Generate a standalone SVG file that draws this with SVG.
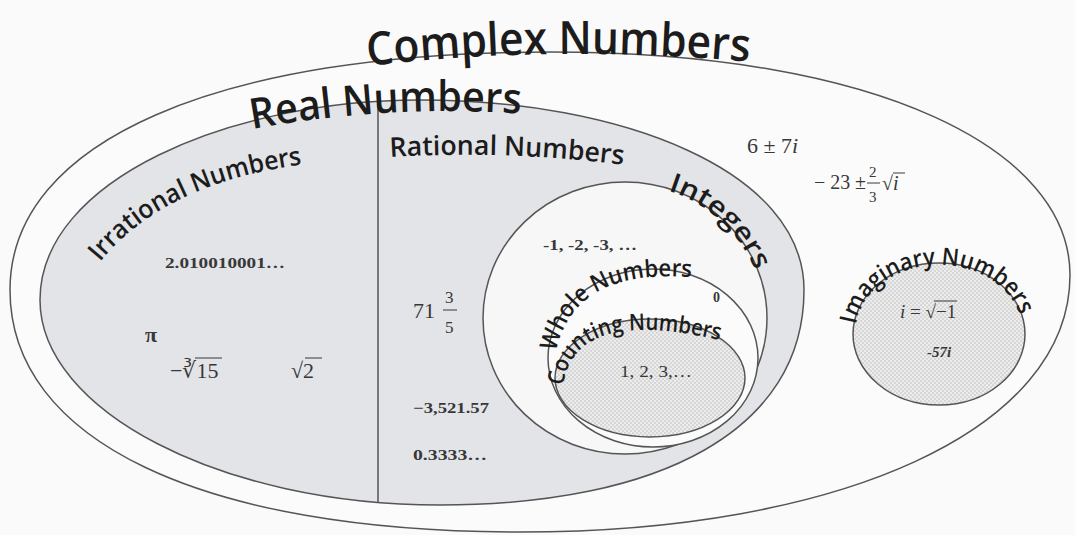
<svg xmlns="http://www.w3.org/2000/svg" width="1075" height="535" viewBox="0 0 1075 535">
<style>
.shape{stroke:#555;stroke-width:1.5}
.line{fill:none;stroke:#555;stroke-width:1.5}
.hand{font-family:"Comic Sans MS","Open Sans","DejaVu Sans",sans-serif;font-weight:600;fill:#1c1c1c}
.m{font-family:"Liberation Serif","Times New Roman",serif;fill:#383838}
.b{font-weight:bold}
.it{font-style:italic}
.rule{stroke:#383838;stroke-width:1}
</style>
<defs>
<pattern id="dots" width="4" height="4" patternUnits="userSpaceOnUse"><rect width="4" height="4" fill="#ececec"/><circle cx="1" cy="1" r="0.7" fill="#b3b3b3"/><circle cx="3" cy="3" r="0.7" fill="#b3b3b3"/></pattern>
<path id="pTitle" d="M 368,66 Q 558,44 752,62"/>
<path id="pReal" d="M 252,129 Q 390,104 526,114"/>
<path id="pIrr" d="M 100,262 Q 165,182 306,164"/>
<path id="pRat" d="M 390,157 Q 505,150 626,165"/>
<path id="pInt" d="M 668,190.6 A 139 134 0 0 1 755.6,272.2"/>
<path id="pWhole" d="M 556,352 Q 575,262 708,279"/>
<path id="pCount" d="M 563,386 Q 575,300 742,346"/>
<path id="pImag" d="M 855.8,324.4 A 84 69 0 0 1 1022.2,324.4"/>
</defs>
<rect width="1075" height="535" fill="#fafafa"/>

<g id="complex">
<path class="shape" style="fill:#fbfbfb" d="M 10,290 C 10,140 220,52 550,52 C 880,52 1070,150 1070,275 C 1070,430 840,532 520,532 C 200,532 10,440 10,290 Z"/>
<text class="hand" font-size="46"><textPath href="#pTitle" textLength="382" lengthAdjust="spacingAndGlyphs">Complex Numbers</textPath></text>
<text class="m" x="747" y="153" font-size="22">6 ± 7<tspan class="it">i</tspan></text>
<text class="m" x="814" y="189" font-size="20" textLength="52" lengthAdjust="spacingAndGlyphs">− 23 ±</text>
<text class="m" x="869" y="177" font-size="15">2</text>
<line class="rule" x1="867" y1="183" x2="880" y2="183"/>
<text class="m" x="869" y="202" font-size="15">3</text>
<text class="m" x="882" y="190" font-size="20">√<tspan class="it">i</tspan></text>
<line class="rule" x1="893" y1="173" x2="905" y2="173"/>
</g>

<g id="real">
<path class="shape" style="fill:#e3e4e8" d="M 40,300 C 40,180 230,100 420,100 C 620,100 804,170 804,290 C 804,430 660,505 440,505 C 220,505 40,410 40,300 Z"/>
<line class="line" x1="378" y1="101" x2="378" y2="503"/>
<text class="hand" font-size="42"><textPath href="#pReal" textLength="270" lengthAdjust="spacingAndGlyphs">Real Numbers</textPath></text>
</g>

<g id="irrational">
<text class="hand" font-size="26"><textPath href="#pIrr" textLength="230" lengthAdjust="spacingAndGlyphs">Irrational Numbers</textPath></text>
<text class="m b" x="165" y="268" font-size="15" textLength="120" lengthAdjust="spacingAndGlyphs">2.010010001…</text>
<text class="m b" x="145" y="342" font-size="22">π</text>
<text class="m" x="170" y="378" font-size="22">−∛15</text>
<line class="rule" x1="195" y1="358" x2="222" y2="358"/>
<text class="m" x="291" y="378" font-size="22">√2</text>
<line class="rule" x1="305" y1="358" x2="322" y2="358"/>
</g>

<g id="rational">
<text class="hand" font-size="27"><textPath href="#pRat" textLength="234" lengthAdjust="spacingAndGlyphs">Rational Numbers</textPath></text>
<text class="m" x="413" y="318" font-size="22">71</text>
<text class="m" x="445" y="303" font-size="17">3</text>
<line class="rule" x1="443" y1="310" x2="457" y2="310"/>
<text class="m" x="445" y="333" font-size="17">5</text>
<text class="m b" x="413" y="413" font-size="15" textLength="76" lengthAdjust="spacingAndGlyphs">−3,521.57</text>
<text class="m b" x="413" y="460" font-size="15" textLength="74" lengthAdjust="spacingAndGlyphs">0.3333…</text>
</g>

<g id="integers">
<ellipse class="shape" style="fill:#f7f7f8" cx="625" cy="318" rx="142" ry="136"/>
<text class="hand" font-size="27"><textPath href="#pInt" textLength="122" lengthAdjust="spacingAndGlyphs">Integers</textPath></text>
<text class="m b" x="543" y="250" font-size="14" textLength="94" lengthAdjust="spacingAndGlyphs">-1, -2, -3, …</text>
</g>

<g id="whole">
<ellipse class="shape" style="fill:#fbfbfb" cx="653" cy="358" rx="105" ry="89"/>
<text class="hand" font-size="24"><textPath href="#pWhole" textLength="172" lengthAdjust="spacingAndGlyphs">Whole Numbers</textPath></text>
<text class="m b" x="713" y="302" font-size="14">0</text>
</g>

<g id="counting">
<ellipse class="shape" style="fill:url(#dots)" cx="650" cy="378" rx="95" ry="59"/>
<text class="hand" font-size="23"><textPath href="#pCount" textLength="186" lengthAdjust="spacingAndGlyphs">Counting Numbers</textPath></text>
<text class="m" x="620" y="377" font-size="16" textLength="72" lengthAdjust="spacingAndGlyphs">1, 2, 3,…</text>
</g>

<g id="imaginary">
<ellipse class="shape" style="fill:url(#dots)" cx="939" cy="334" rx="86" ry="71"/>
<text class="hand" font-size="24"><textPath href="#pImag" textLength="212" lengthAdjust="spacingAndGlyphs">Imaginary Numbers</textPath></text>
<text class="m" x="900" y="318" font-size="19"><tspan class="it">i</tspan> = √−1</text>
<line class="rule" x1="934" y1="301" x2="957" y2="301"/>
<text class="m b it" x="927" y="357" font-size="15">-57i</text>
</g>

<g id="connectors"></g>
</svg>
